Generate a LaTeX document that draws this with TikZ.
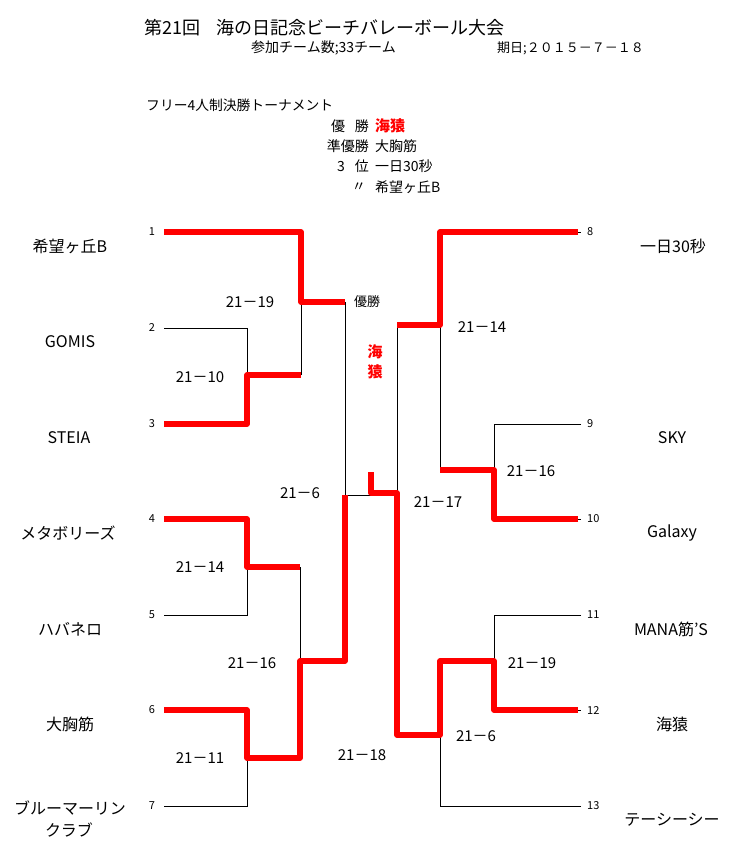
\documentclass[tikz,border=0pt]{standalone}
\usepackage{fontspec}
\setmainfont{Noto Sans CJK JP}
\definecolor{wred}{RGB}{255,0,0}
\begin{document}
\begin{tikzpicture}[x=1pt,y=-1pt,
  win/.style={draw=wred,line width=5.5pt,line join=round},
  lose/.style={draw=black,line width=0.9pt},
  team/.style={font=\fontsize{16}{18}\selectfont,inner sep=0pt},
  num/.style={font=\fontsize{11}{12}\selectfont,inner sep=0pt},
  score/.style={font=\fontsize{15}{16}\selectfont,inner sep=0pt},
  info/.style={font=\fontsize{14}{16}\selectfont,inner sep=0pt}]
\useasboundingbox (0,0) rectangle (743,857);
% header
\node[font=\fontsize{18}{20}\selectfont,anchor=west,inner sep=0pt] (title) at (144,28) {第21回\hspace{0.9em}海の日記念ビーチバレーボール大会};
\node[info,anchor=west] (teams) at (251,48) {参加チーム数;33チーム};
\node[info,font=\fontsize{13}{15}\selectfont,anchor=west] (date) at (497,48) {期日;２０１５－７－１８};
\node[info,font=\fontsize{13.8}{15}\selectfont,anchor=west] (sub) at (146,105) {フリー4人制決勝トーナメント};
% results
\node[info,anchor=east] (r1l) at (369,126) {優\hspace{0.7em}勝};
\node[anchor=west,inner sep=0pt,text=wred,font=\fontsize{15}{16}\selectfont\bfseries] (r1v) at (375,126) {海猿};
\node[info,anchor=east] (r2l) at (369,146) {準優勝};
\node[info,anchor=west] (r2v) at (375,146) {大胸筋};
\node[info,anchor=east] (r3l) at (369,166) {3\hspace{0.7em}位};
\node[info,anchor=west] (r3v) at (375,166) {一日30秒};
\node[info,anchor=east] (r4l) at (366,187) {〃};
\node[info,anchor=west] (r4v) at (375,187) {希望ヶ丘B};
% team endpoints
\coordinate (t1) at (164,232);
\coordinate (t2) at (164,328);
\coordinate (t3) at (164,424);
\coordinate (t4) at (164,519);
\coordinate (t5) at (164,615);
\coordinate (t6) at (164,710);
\coordinate (t7) at (164,806);
\coordinate (t8) at (578,232);
\coordinate (t9) at (581,424);
\coordinate (t10) at (578,519);
\coordinate (t11) at (581,615);
\coordinate (t12) at (578,710);
\coordinate (t13) at (581,806);
% junctions
\coordinate (jA) at (247,375);
\coordinate (jB) at (301,302);
\coordinate (jC) at (247,567);
\coordinate (jD) at (247,758);
\coordinate (jE) at (300,661);
\coordinate (jF) at (345,495);
\coordinate (jG) at (440,325);
\coordinate (jH) at (494,470);
\coordinate (jI) at (494,661);
\coordinate (jJ) at (440,735);
\coordinate (jK) at (397,493);
\coordinate (champ) at (371,472);
% left bracket: losers
\draw[lose] (t2) -| (jA);
\draw[lose] (301,375) -- (jB);
\draw[lose] (345,302) -- (jF) -- (371,495);
\draw[lose] (t5) -| (jC);
\draw[lose] (300,567) -- (jE);
\draw[lose] (t7) -| (jD);
% left bracket: winners
\draw[win] (t1) -- (301,232) -- (jB) -- (345,302);
\draw[win] (t3) -- (247,424) -- (jA) -- (301,375);
\draw[win] (t4) -- (247,519) -- (jC) -- (300,567);
\draw[win] (t6) -- (247,710) -- (jD) -- (300,758) -- (jE) -- (345,661) -- (jF);
% right bracket: losers
\draw[lose] (397,325) -- (jK);
\draw[lose] (jG) -- (440,470);
\draw[lose] (t9) -| (jH);
\draw[lose] (t11) -| (jI);
\draw[lose] (t13) -| (jJ);
\draw[lose] (574,232) -- (581,232);
\draw[lose] (574,519) -- (581,519);
\draw[lose] (574,710) -- (581,710);
% right bracket: winners
\draw[win] (t8) -- (440,232) -- (jG) -- (397,325);
\draw[win] (t10) -- (494,519) -- (jH) -- (440,470);
\draw[win] (t12) -- (494,710) -- (jI) -- (440,661) -- (jJ) -- (397,735) -- (jK) -- (371,493) -- (champ);
% numbers
\foreach \n/\y in {1/232,2/328,3/424,4/519,5/615,6/710,7/806}
  \node[num] (n\n) at (152,\y) {\n};
\foreach \n/\y in {8/232,9/424,10/519,11/615,12/710,13/806}
  \node[num,anchor=west] (n\n) at (587,\y) {\n};
% team names
\node[team] (a1) at (70,246) {希望ヶ丘B};
\node[team] (a2) at (70,342) {GOMIS};
\node[team] (a3) at (69,438) {STEIA};
\node[team] (a4) at (68,533) {メタボリーズ};
\node[team] (a5) at (70,629) {ハバネロ};
\node[team] (a6) at (70,724) {大胸筋};
\node[team] (a7) at (70,808) {ブルーマーリン};
\node[team] (a7b) at (69,830) {クラブ};
\node[team] (b8) at (673,246) {一日30秒};
\node[team] (b9) at (672,438) {SKY};
\node[team] (b10) at (672,533) {Galaxy};
\node[team] (b11) at (671,629) {MANA筋’S};
\node[team] (b12) at (672,724) {海猿};
\node[team] (b13) at (672,820) {テーシーシー};
% scores
\node[score] (s1) at (250,302) {21－19};
\node[score] (s2) at (200,377) {21－10};
\node[score] (s3) at (300,493) {21－6};
\node[score] (s4) at (200,567) {21－14};
\node[score] (s5) at (252,663) {21－16};
\node[score] (s6) at (200,758) {21－11};
\node[score] (s7) at (362,755) {21－18};
\node[score] (s8) at (482,327) {21－14};
\node[score] (s9) at (531,471) {21－16};
\node[score] (s10) at (438,502) {21－17};
\node[score] (s11) at (532,663) {21－19};
\node[score] (s12) at (476,736) {21－6};
% centre
\node[info,font=\fontsize{13}{14}\selectfont] (yusho) at (367,302) {優勝};
\node[inner sep=0pt,text=wred,font=\fontsize{15}{16}\selectfont\bfseries] (w1) at (375,352) {海};
\node[inner sep=0pt,text=wred,font=\fontsize{15}{16}\selectfont\bfseries] (w2) at (375,372) {猿};
\end{tikzpicture}
\end{document}
